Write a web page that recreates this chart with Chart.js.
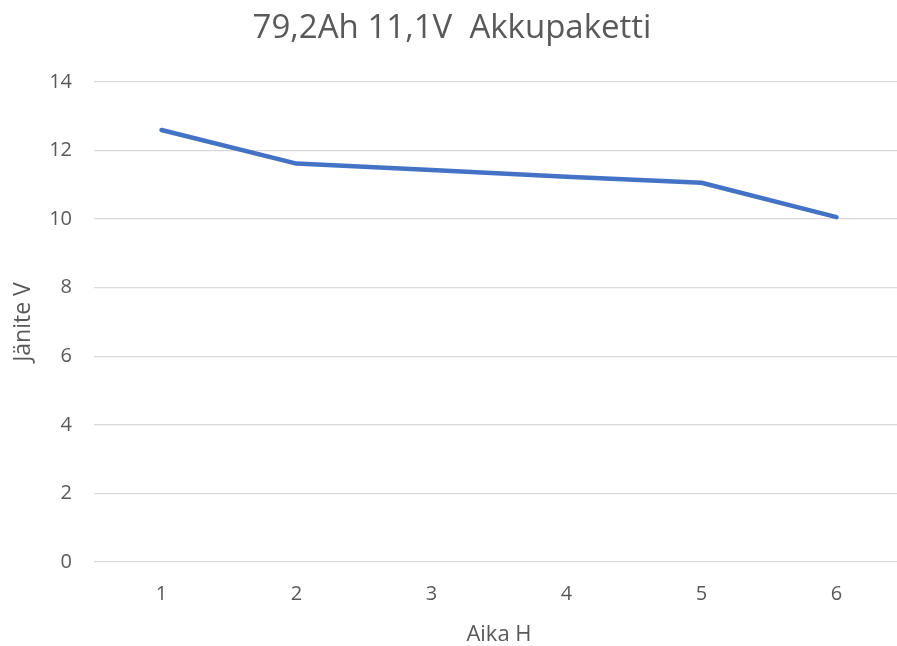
<!DOCTYPE html>
<html>
<head>
<meta charset="utf-8">
<script src="https://cdn.jsdelivr.net/npm/chart.js@4.4.1/dist/chart.umd.min.js"></script>
<style>
  html, body { margin: 0; padding: 0; background: #fff; overflow: hidden; }
  #wrap { position: relative; width: 908px; height: 646px; }
</style>
</head>
<body>
<div id="wrap"><canvas id="c"></canvas></div>
<script>
// Discharge curve of the battery pack, voltage read once per hour
const hours = ['1', '2', '3', '4', '5', '6'];
const voltage = [12.6, 11.62, 11.43, 11.24, 11.06, 10.06];
const yTicks = [0, 2, 4, 6, 8, 10, 12, 14];

const textGray = '#595959';
const fontFamily = '"Open Sans", "Noto Sans", sans-serif';

new Chart(document.getElementById('c'), {
  type: 'line',
  data: {
    labels: hours,
    datasets: [{
      data: voltage,
      borderColor: '#4472C4',
      borderWidth: 4.5,
      pointRadius: 0,
      pointHoverRadius: 0,
      tension: 0,
      fill: false,
      borderCapStyle: 'round',
      borderJoinStyle: 'round'
    }]
  },
  options: {
    responsive: true,
    maintainAspectRatio: false,
    animation: false,
    events: [],
    layout: { padding: { left: 0, right: 4, top: 0, bottom: 0 } },
    plugins: {
      legend: { display: false },
      tooltip: { enabled: false },
      title: {
        display: true,
        text: '79,2Ah 11,1V  Akkupaketti',
        color: textGray,
        font: { family: fontFamily, size: 33, weight: 'normal' },
        padding: { top: 9, bottom: 33.4 }
      }
    },
    scales: {
      x: {
        offset: true,
        grid: { display: false, drawTicks: false },
        border: { display: false },
        ticks: { color: textGray, font: { family: fontFamily, size: 20 }, padding: 20 },
        title: {
          display: true,
          text: 'Aika H',
          color: textGray,
          font: { family: fontFamily, size: 22, lineHeight: 1 },
          padding: { top: 0, bottom: 0 }
        },
        afterFit: s => { s.height = 84; }
      },
      y: {
        min: 0,
        max: 14,
        afterBuildTicks: s => { s.ticks = yTicks.map(v => ({ value: v })); },
        grid: { color: '#d9d9d9', lineWidth: 1.3, drawTicks: false },
        border: { display: false },
        ticks: { color: textGray, font: { family: fontFamily, size: 20 }, padding: 22 },
        title: {
          display: true,
          text: 'Jänite V',
          color: textGray,
          font: { family: fontFamily, size: 23 },
          padding: { top: 10, bottom: 0 }
        },
        afterFit: s => { s.width = 94; }
      }
    }
  }
});
</script>
</body>
</html>
